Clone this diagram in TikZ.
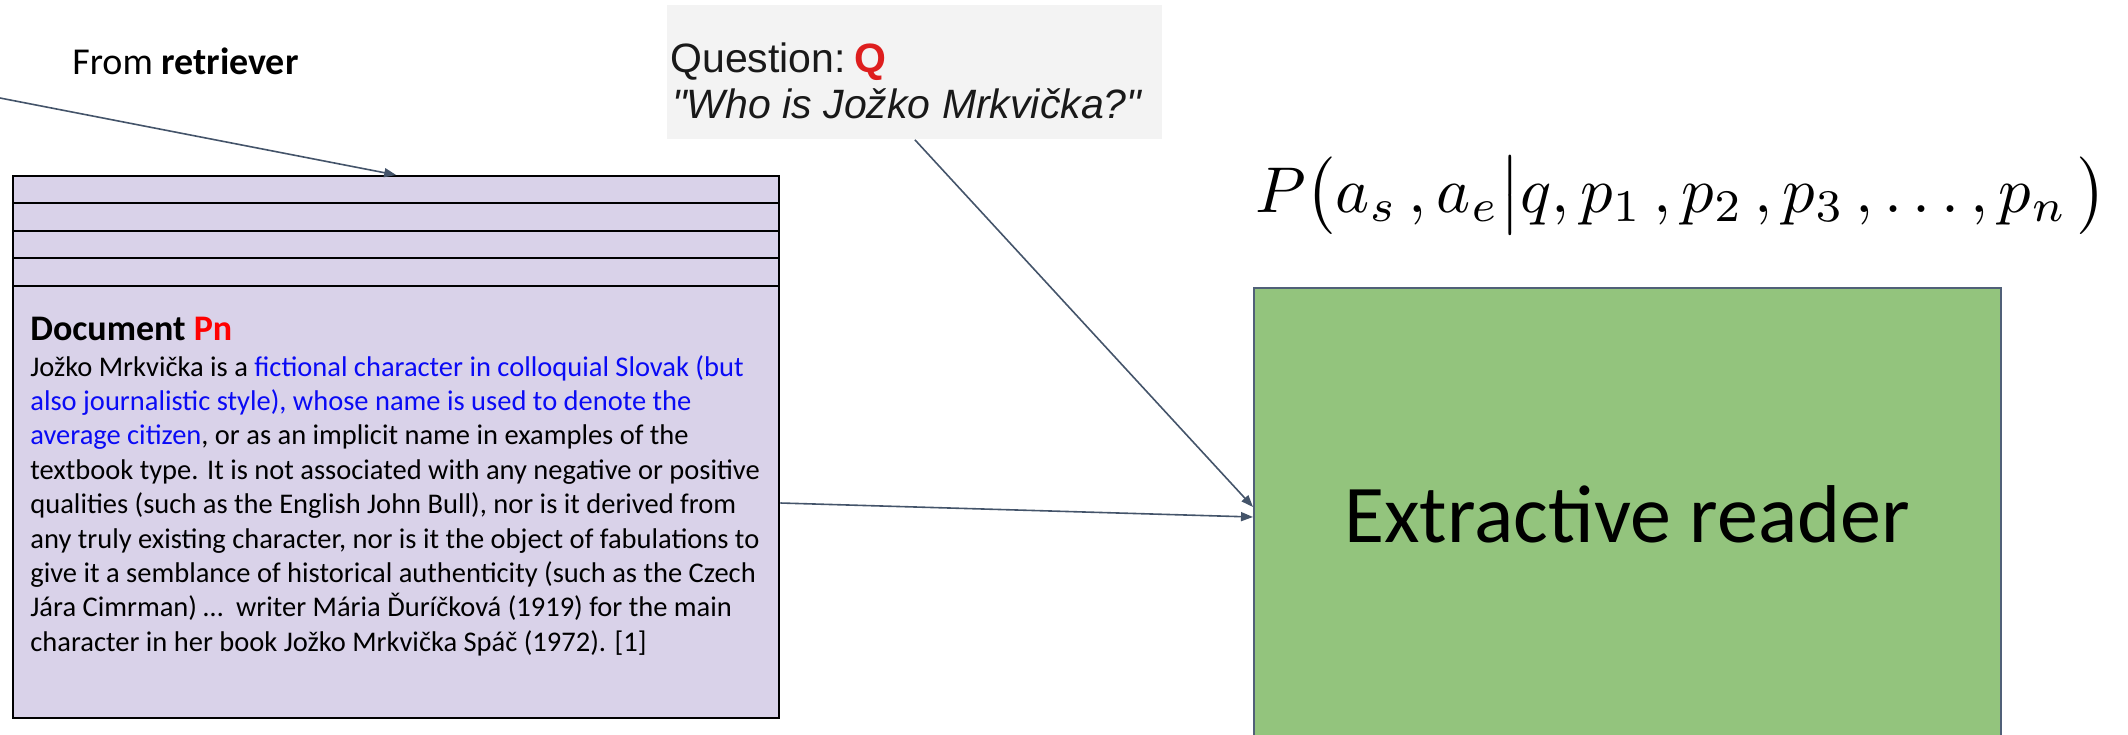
\documentclass[tikz,border=0pt]{standalone}
\usepackage{fontspec}
\setmainfont{Carlito}
\newfontfamily\arialf{Liberation Sans}
\usetikzlibrary{arrows.meta,calc}
\definecolor{docfill}{RGB}{217,210,233}
\definecolor{readerfill}{RGB}{147,196,125}
\definecolor{readerborder}{RGB}{80,96,120}
\definecolor{arrowc}{RGB}{68,84,106}
\definecolor{qfill}{RGB}{243,243,243}
\definecolor{qtextc}{RGB}{25,25,25}
\definecolor{linkblue}{RGB}{10,10,245}
\definecolor{pnred}{RGB}{255,0,0}
\definecolor{qred}{RGB}{222,30,30}
\tikzset{
  conn/.style={draw=arrowc, line width=0.8pt, -{Triangle[length=6pt,width=4.5pt]}},
  docbox/.style={draw=black, line width=1.2pt, fill=docfill, inner sep=0pt, anchor=north west, minimum width=383pt, minimum height=271pt},
  stripe/.style={draw=black, line width=1pt},
  bodyline/.style={anchor=base west, inner sep=0pt, font=\fontsize{14.25}{17}\selectfont},
  qbox/.style={fill=qfill, draw=none, inner sep=0pt, anchor=north west, minimum width=247.5pt, minimum height=67pt},
  qtext/.style={anchor=base west, inner sep=0pt, text=qtextc},
  readerbox/.style={fill=readerfill, draw=readerborder, line width=0.8pt, inner sep=0pt, anchor=north west, minimum width=373.5pt, minimum height=232pt},
}
\begin{document}
\begin{tikzpicture}[x=0.5pt,y=-0.5pt]
\useasboundingbox (0,0) rectangle (2128,734);
\clip (0,0) rectangle (2128,734);

% document stack
\node[docbox] (doc) at (12,175) {};
\foreach \d in {28,56,83,111}
  \draw[stripe] ($(doc.north west)+(0,\d)$) -- ($(doc.north east)+(0,\d)$);

\node[anchor=base west, inner sep=0pt, font=\fontsize{18}{22}\selectfont\bfseries] (doctitle) at (30,340) {Document {\color{pnred}Pn}};
\node[bodyline] (l1) at (30,376) {Jožko Mrkvička is a {\color{linkblue}fictional character in colloquial Slovak (but}};
\node[bodyline] (l2) at (30,410.4) {{\color{linkblue}also journalistic style), whose name is used to denote the}};
\node[bodyline] (l3) at (30,444.8) {{\color{linkblue}average citizen}, or as an implicit name in examples of the};
\node[bodyline] (l4) at (30,479.2) {textbook type. It is not associated with any negative or positive};
\node[bodyline] (l5) at (30,513.6) {qualities (such as the English John Bull), nor is it derived from};
\node[bodyline] (l6) at (30,548) {any truly existing character, nor is it the object of fabulations to};
\node[bodyline] (l7) at (30,582.4) {give it a semblance of historical authenticity (such as the Czech};
\node[bodyline] (l8) at (30,616.8) {Jára Cimrman) …\ \ writer Mária Ďuríčková (1919) for the main};
\node[bodyline] (l9) at (30,651.2) {character in her book Jožko Mrkvička Spáč (1972). [1]};

% from retriever
\node[anchor=base west, inner sep=0pt, font=\fontsize{19}{23}\selectfont] (from) at (72,74) {From \textbf{retriever}};
\coordinate (rstart) at (0,98);

% question
\node[qbox] (q) at (667,5) {};
\node[qtext, font=\arialf\fontsize{20.5}{24}\selectfont] (qlabel) at (670,72) {Question:\hspace{0.2em}{\bfseries\color{qred}Q}};
\node[qtext, font=\arialf\itshape\fontsize{20.5}{24}\selectfont] (qq) at (672,118) {"Who is Jožko Mrkvička?"};

% formula
\node[anchor=base west, inner sep=0pt] (formula) at (1255,212) {\resizebox{426pt}{!}{$P\bigl(a_s\,, a_e\big|q, p_1\,, p_2\,, p_3\,, \ldots, p_n\,\bigr)$}};

% reader
\node[readerbox] (reader) at (1253,287) {};
\node[anchor=base, inner sep=0pt, font=\fontsize{41}{48}\selectfont] (readerlabel) at (1627,542) {Extractive reader};

% connectors
\draw[conn] (rstart) -- (doc.north);
\draw[conn] (q.south) -- ($(reader.north west)+(0,220)$);
\draw[conn] ($(doc.north east)+(0,328)$) -- ($(reader.north west)+(0,230)$);
\end{tikzpicture}
\end{document}
